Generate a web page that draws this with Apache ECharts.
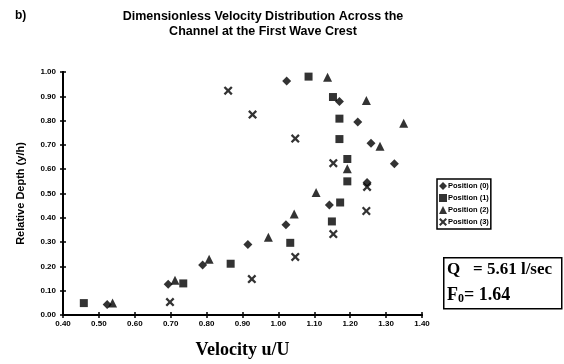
<!DOCTYPE html>
<html><head><meta charset="utf-8">
<script src="https://cdn.jsdelivr.net/npm/echarts@6/dist/echarts.min.js"></script>
<style>html,body{margin:0;padding:0;background:#fff}#c{width:564px;height:364px}</style>
</head><body><div id="c"></div>
<script>
const seriesNames = ['Position (0)', 'Position (1)', 'Position (2)', 'Position (3)'];
const pos0 = [[0.523,0.043],[0.693,0.127],[0.789,0.206],[0.915,0.290],[1.021,0.371],[1.142,0.453],[1.247,0.545],[1.323,0.622],[1.258,0.707],[1.221,0.794],[1.170,0.879],[1.023,0.963]];
const pos1 = [[0.458,0.049],[0.735,0.130],[0.867,0.211],[1.033,0.297],[1.149,0.385],[1.172,0.463],[1.192,0.550],[1.192,0.642],[1.170,0.724],[1.170,0.808],[1.152,0.897],[1.084,0.981]];
const pos2 = [[0.538,0.049],[0.712,0.143],[0.807,0.229],[0.972,0.320],[1.044,0.416],[1.105,0.504],[1.192,0.602],[1.283,0.694],[1.349,0.789],[1.245,0.883],[1.137,0.978]];
const pos3 = [[0.698,0.053],[0.926,0.148],[1.047,0.239],[1.153,0.333],[1.245,0.428],[1.247,0.527],[1.153,0.625],[1.047,0.726],[0.928,0.825],[0.860,0.923]];
const xTicks = [0.4,0.5,0.6,0.7,0.8,0.9,1.0,1.1,1.2,1.3,1.4];
const yTicks = [0,0.1,0.2,0.3,0.4,0.5,0.6,0.7,0.8,0.9,1.0];

const crossPath = 'path://M0,1.8L1.8,0L5,3.2L8.2,0L10,1.8L6.8,5L10,8.2L8.2,10L5,6.8L1.8,10L0,8.2L3.2,5Z';
const symbols = ['diamond', 'rect', 'triangle', crossPath];
const sizes = [9, 8, 9, 9];
const data = [pos0, pos1, pos2, pos3];

const chart = echarts.init(document.getElementById('c'), null, {renderer: 'canvas'});
const axisFont = {fontFamily: 'Liberation Sans, Arial', fontWeight: 'bold', fontSize: 8, color: '#000'};
const common = {
  axisLine: {show: true, onZero: false, lineStyle: {color: '#000', width: 2}},
  splitLine: {show: false}
};
chart.setOption({
  animation: false,
  backgroundColor: '#fff',
  title: [
    {text: 'Dimensionless Velocity Distribution Across the\nChannel at the First Wave Crest',
     left: 258, top: 4, textAlign: 'center',
     textStyle: {fontFamily: 'Liberation Sans, Arial', fontWeight: 'bold', fontSize: 12.5, color: '#000', lineHeight: 15}},
    {text: 'b)', left: 10, top: 5,
     textStyle: {fontFamily: 'Liberation Sans, Arial', fontWeight: 'bold', fontSize: 12, color: '#000'}}
  ],
  grid: {left: 63, right: 142, top: 72, bottom: 46},
  legend: {
    orient: 'vertical', left: 437, top: 179,
    data: seriesNames,
    itemWidth: 8, itemHeight: 8, itemGap: 4,
    padding: [3, 2, 3, 2],
    borderColor: '#000', borderWidth: 1.5,
    textStyle: {fontFamily: 'Liberation Sans, Arial', fontWeight: 'bold', fontSize: 7.5, color: '#000', padding: [0,0,0,-4]}
  },
  xAxis: [
    Object.assign({}, common, {
      type: 'value', min: 0.4, max: 1.4, interval: 0.1,
      name: 'Velocity u/U', nameLocation: 'middle', nameGap: 26,
      nameTextStyle: {fontFamily: 'Liberation Serif, Times New Roman', fontWeight: 'bold', fontSize: 18, color: '#000'},
      axisTick: {show: true, length: 3, lineStyle: {color: '#000', width: 1.5}},
      axisLabel: Object.assign({margin: 5, formatter: v => v.toFixed(2)}, axisFont)
    }),
    Object.assign({}, common, {
      type: 'value', min: 0.4, max: 1.4, interval: 0.1, position: 'bottom',
      axisTick: {show: true, inside: true, length: 3, lineStyle: {color: '#000', width: 1.5}},
      axisLabel: {show: false}
    })
  ],
  yAxis: [
    Object.assign({}, common, {
      type: 'value', min: 0, max: 1, interval: 0.1,
      name: 'Relative Depth (y/h)', nameLocation: 'middle', nameGap: 37,
      nameTextStyle: {fontFamily: 'Liberation Sans, Arial', fontWeight: 'bold', fontSize: 11, color: '#000'},
      axisTick: {show: true, length: 3, lineStyle: {color: '#000', width: 1.5}},
      axisLabel: Object.assign({margin: 7, formatter: v => v.toFixed(2)}, axisFont)
    }),
    Object.assign({}, common, {
      type: 'value', min: 0, max: 1, interval: 0.1, position: 'left',
      axisTick: {show: true, inside: true, length: 3, lineStyle: {color: '#000', width: 1.5}},
      axisLabel: {show: false}
    })
  ],
  series: seriesNames.map((n, i) => ({
    name: n, type: 'scatter', data: data[i],
    symbol: symbols[i], symbolSize: sizes[i],
    itemStyle: {color: '#000'}
  })),
  graphic: [
    {type: 'rect', left: 443, top: 257, shape: {width: 118, height: 51},
     style: {fill: '#fff', stroke: '#000', lineWidth: 1.5}},
    {type: 'text', left: 447, top: 261,
     style: {text: 'Q   = 5.61 l/sec', font: 'bold 17px "Liberation Serif", "Times New Roman"', fill: '#000'}},
    {type: 'text', left: 447, top: 286,
     style: {text: '{a|F}{s|0}{a|= 1.64}',
       rich: {a: {font: 'bold 18px "Liberation Serif", "Times New Roman"', fill: '#000'},
              s: {font: 'bold 12px "Liberation Serif", "Times New Roman"', fill: '#000', verticalAlign: 'bottom', padding: [7,0,0,0]}}}}
  ]
});
</script></body></html>
